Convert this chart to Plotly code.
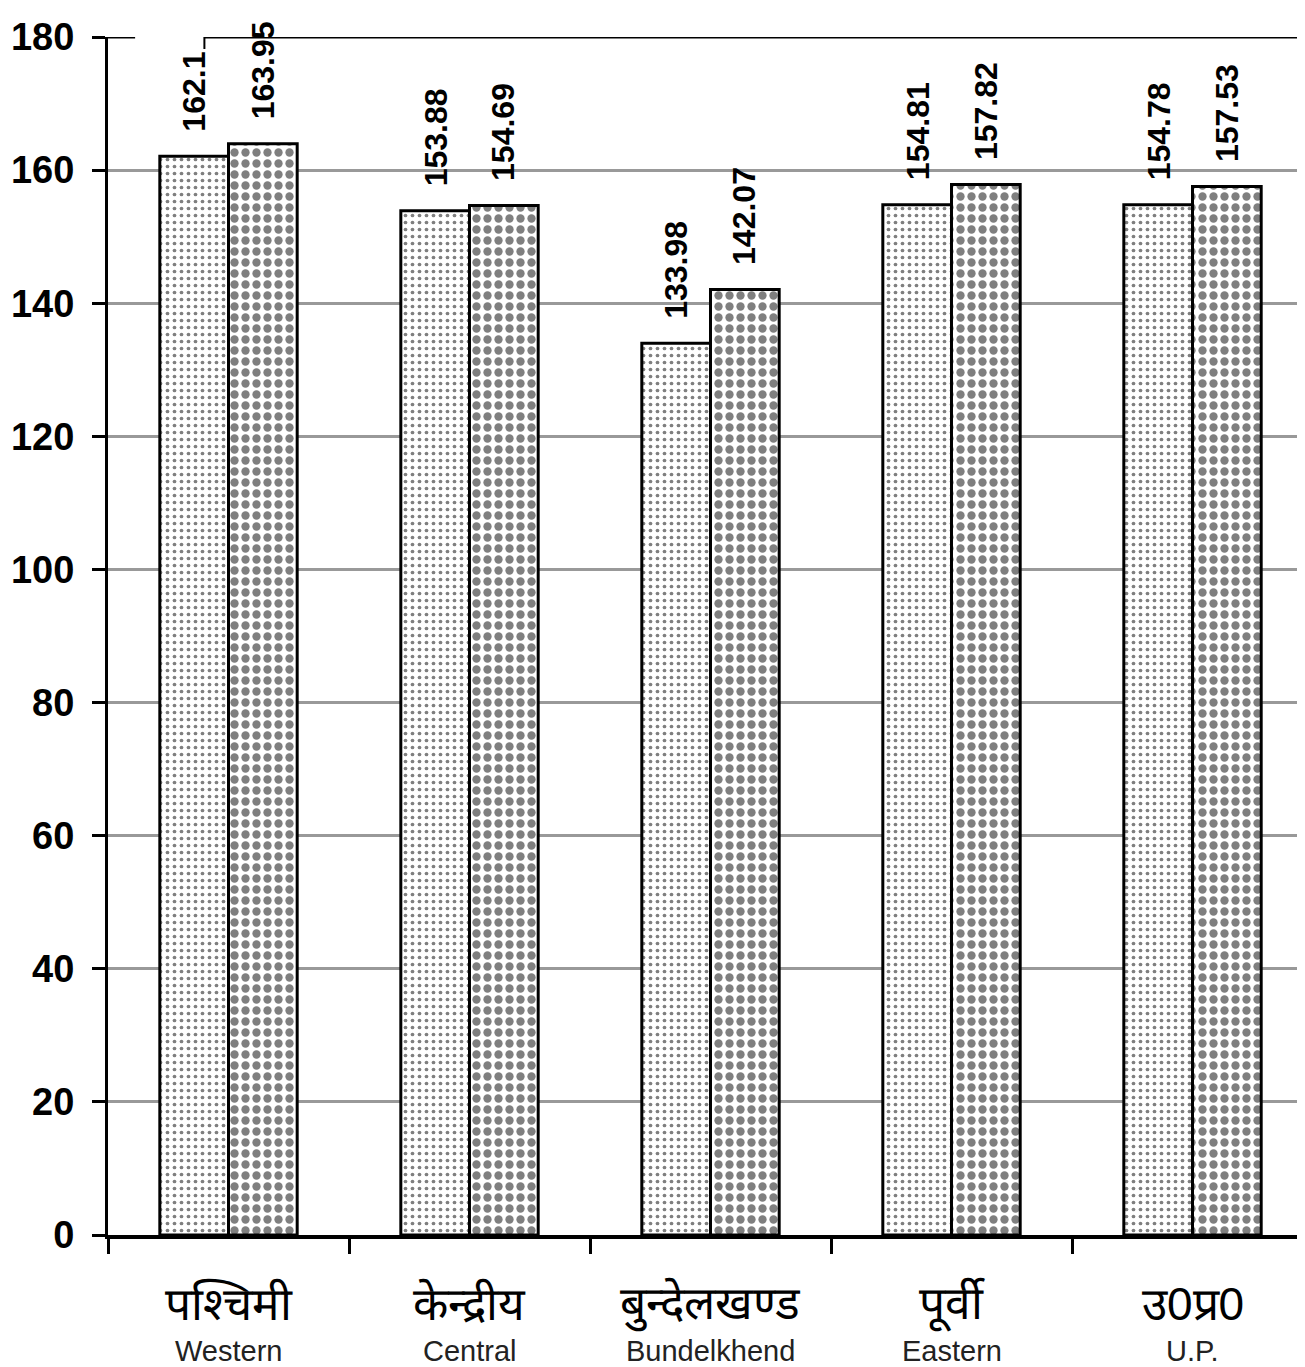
import plotly.graph_objects as go

regions_hi = ["पश्चिमी", "केन्द्रीय", "बुन्देलखण्ड", "पूर्वी", "उ0प्र0"]
regions_en = ["Western", "Central", "Bundelkhend", "Eastern", "U.P."]
series_a = [162.1, 153.88, 133.98, 154.81, 154.78]
series_b = [163.95, 154.69, 142.07, 157.82, 157.53]
y_ticks = [0, 20, 40, 60, 80, 100, 120, 140, 160, 180]

fig = go.Figure()

fig.add_trace(
    go.Bar(
        x=regions_en,
        y=series_a,
        marker=dict(
            color="white",
            line=dict(color="black", width=3),
            pattern=dict(shape=".", fgcolor="black", bgcolor="white",
                         size=7, solidity=0.22, fillmode="overlay"),
        ),
        showlegend=False,
    )
)
fig.add_trace(
    go.Bar(
        x=regions_en,
        y=series_b,
        marker=dict(
            color="white",
            line=dict(color="black", width=3),
            pattern=dict(shape=".", fgcolor="black", bgcolor="white",
                         size=11, solidity=0.45, fillmode="overlay"),
        ),
        showlegend=False,
    )
)

# value labels, rotated, above each bar
val_font = dict(family="Liberation Sans, Arial", size=32, color="black", weight="bold")
for cat, a, b in zip(regions_en, series_a, series_b):
    for v, dx in ((a, -34), (b, 34)):
        fig.add_annotation(x=cat, y=v, text=f"{v:g}", textangle=-90,
                           xshift=dx, yshift=22, yanchor="bottom",
                           showarrow=False, font=val_font)

# category labels: Hindi over English
for hi, en in zip(regions_hi, regions_en):
    fig.add_annotation(x=en, y=-0.058, yref="paper", text=hi, showarrow=False,
                       yanchor="middle", font=dict(size=46, color="black"))
    fig.add_annotation(x=en, y=-0.097, yref="paper", text=en, showarrow=False,
                       yanchor="middle",
                       font=dict(family="Liberation Sans, Arial", size=29, color="#222"))

# top border line at 180
fig.add_shape(type="line", xref="paper", yref="y", x0=0.08, x1=1, y0=180, y1=180,
              line=dict(color="black", width=3))
fig.add_shape(type="line", xref="paper", yref="y", x0=0.08, x1=0.08, y0=180, y1=178.2,
              line=dict(color="black", width=2))
fig.add_shape(type="line", xref="paper", yref="y", x0=0, x1=0.0225, y0=180, y1=180,
              line=dict(color="black", width=3))

fig.update_layout(
    width=1305,
    height=1367,
    paper_bgcolor="white",
    plot_bgcolor="white",
    barmode="group",
    bargap=0.43,
    bargroupgap=0,
    margin=dict(l=100, r=0, t=29, b=140),
    font=dict(family="Liberation Sans, Arial", color="black"),
    xaxis=dict(
        type="category",
        range=[-0.5, 4.5],
        showticklabels=False,
        tickson="boundaries",
        ticks="outside",
        ticklen=15,
        tickwidth=3,
        tickcolor="black",
        showline=True,
        linecolor="black",
        linewidth=4,
        showgrid=False,
        automargin=False,
    ),
    yaxis=dict(
        range=[0, 180],
        tickvals=y_ticks,
        ticks="outside",
        ticklen=13,
        tickwidth=3,
        tickcolor="black",
        ticklabelstandoff=10,
        tickfont=dict(family="Liberation Sans, Arial", size=38, color="black", weight="bold"),
        showline=True,
        linecolor="black",
        linewidth=3,
        showgrid=True,
        gridcolor="#999999",
        gridwidth=3,
        zeroline=False,
        automargin=False,
    ),
)

fig.write_html("out.html")
